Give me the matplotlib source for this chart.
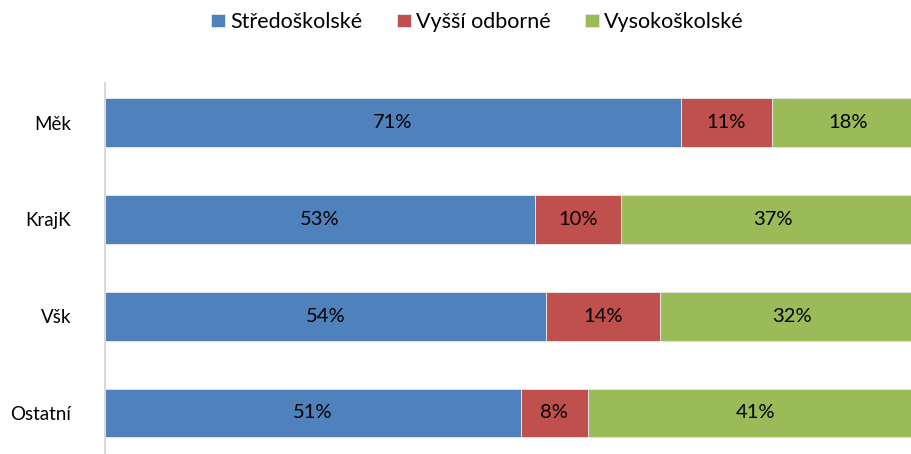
import matplotlib
matplotlib.use("Agg")
import matplotlib.pyplot as plt
import numpy as np

categories = ["Měk", "KrajK", "Všk", "Ostatní"]
series_names = ["Středoškolské", "Vyšší odborné", "Vysokoškolské"]
stredoskolske = [70.4, 52.6, 53.9, 50.8]
vyssi_odborne = [11.1, 10.5, 13.9, 8.2]
vysokoskolske = [18.5, 37.0, 32.2, 41.0]
labels_stred = ["71%", "53%", "54%", "51%"]
labels_vyssi = ["11%", "10%", "14%", "8%"]
labels_vysoko = ["18%", "37%", "32%", "41%"]

colors = ["#4F81BD", "#C0504D", "#9BBB59"]

plt.rcParams['font.family'] = ['Lato', 'DejaVu Sans']

W, H = 911, 454
fig = plt.figure(figsize=(W / 100, H / 100), dpi=100)
left_px, right_px = 104.5, 923.5
top_px, bot_px = 83, 454
ax = fig.add_axes([left_px / W, 1 - bot_px / H, (right_px - left_px) / W, (bot_px - top_px) / H])

y = np.arange(len(categories))
series = [stredoskolske, vyssi_odborne, vysokoskolske]
labels = [labels_stred, labels_vyssi, labels_vysoko]
left = np.zeros(len(categories))
for vals, lab, col, name in zip(series, labels, colors, series_names):
    vals = np.array(vals)
    bars = ax.barh(y, vals, left=left, height=0.505, color=col, edgecolor="#e4e4e4",
                   linewidth=0.7, label=name)
    for b, t in zip(bars, lab):
        ax.text(b.get_x() + b.get_width() / 2, b.get_y() + b.get_height() / 2, t,
                ha="center", va="center", fontsize=14.5, color="black")
    left += vals

ax.set_xlim(0, 100)
ax.set_ylim(3.424, -0.408)
ax.set_yticks(y)
ax.set_yticklabels(categories, fontsize=13.5)
ax.tick_params(axis="y", length=0, pad=24)
ax.set_xticks([])
for s in ["top", "right", "bottom"]:
    ax.spines[s].set_visible(False)
ax.spines["left"].set_color("#d9d9d9")
ax.spines["left"].set_linewidth(1.5)

handles, lbls = ax.get_legend_handles_labels()
fig.legend(handles, lbls, loc="center", bbox_to_anchor=(477.5 / W, 1 - 22 / H), ncol=3,
           frameon=False, fontsize=15.5, handlelength=0.64, handleheight=0.6,
           handletextpad=0.25, columnspacing=1.6, borderpad=0)

fig.savefig("out.png", dpi=100)
